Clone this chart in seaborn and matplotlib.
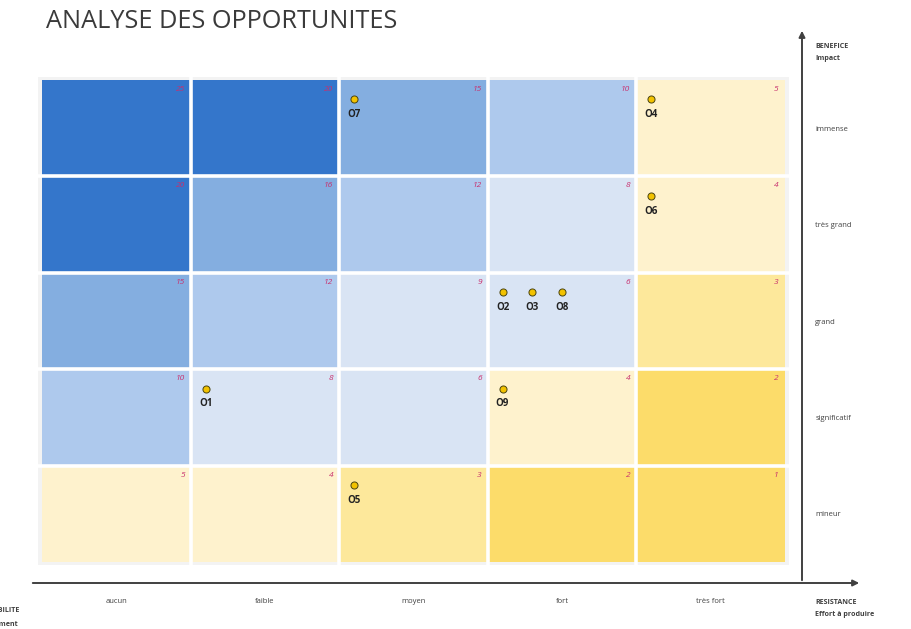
import numpy as np
import pandas as pd
import matplotlib
matplotlib.use("Agg")
import matplotlib.pyplot as plt
from matplotlib.colors import ListedColormap, BoundaryNorm
import seaborn as sns

# axes categories
resistance = ['aucun', 'faible', 'moyen', 'fort', 'très fort']
impact = ['immense', 'très grand', 'grand', 'significatif', 'mineur']

# score per cell (rows = impact, columns = resistance)
scores = [[25, 20, 15, 10, 5],
          [20, 16, 12, 8, 4],
          [15, 12, 9, 6, 3],
          [10, 8, 6, 4, 2],
          [5, 4, 3, 2, 1]]

# opportunities: column index, row index, slot inside the cell
opp_names = ['O1', 'O2', 'O3', 'O4', 'O5', 'O6', 'O7', 'O8', 'O9']
opp_col = [1, 3, 3, 4, 2, 4, 2, 3, 3]
opp_row = [3, 2, 2, 0, 4, 1, 0, 2, 3]
opp_slot = [0, 0, 1, 0, 0, 0, 0, 2, 0]

level_bounds = [0, 2.5, 3.5, 5.5, 9.5, 12.5, 17.5, 26]
level_colors = ['#fcdc6a', '#fde89b', '#fef2cd', '#d9e4f4', '#aec9ed', '#84aee0', '#3476cb']

sns.set_theme(style='white')
plt.rcParams['font.family'] = ['Open Sans', 'DejaVu Sans']

fig = plt.figure(figsize=(9.12, 6.29), dpi=100)
ax = fig.add_axes([38 / 912, 1 - 565 / 629, 751 / 912, 488 / 629])

df = pd.DataFrame(scores, index=impact, columns=resistance)
cmap = ListedColormap(level_colors)
norm = BoundaryNorm(level_bounds, cmap.N)
sns.heatmap(df, cmap=cmap, norm=norm, cbar=False, linewidths=0, ax=ax)

ax.set_facecolor('#f3f3f3')
ax.set_xlim(-0.03, 5.03)
ax.set_ylim(5.03, -0.03)
for k in range(1, 5):
    ax.axvline(k, color='white', lw=2.6)
    ax.axhline(k, color='white', lw=2.6)
for s in ax.spines.values():
    s.set_visible(False)

# score numbers, top right of each cell
for i, row in enumerate(scores):
    for j, v in enumerate(row):
        ax.text(j + 0.96, i + 0.1, str(v), ha='right', va='center', fontsize=6,
                style='italic', color='#c8306e')

# opportunity markers
px = [c + 0.1 + 0.2 * s for c, s in zip(opp_col, opp_slot)]
py = [r + 0.2 for r in opp_row]
sns.scatterplot(x=px, y=py, ax=ax, color='#f2c200', s=26, edgecolor='#4a4410',
                linewidth=0.7, zorder=5, legend=False)
for name, x, y in zip(opp_names, px, py):
    ax.text(x, y + 0.16, name, ha='center', va='center', fontsize=7,
            fontweight='bold', color='#222222', zorder=6)

# tick labels
ax.set_xticks(np.arange(5) + 0.5)
ax.set_xticklabels(resistance, fontsize=5.5, color='#404040')
ax.set_yticks(np.arange(5) + 0.5)
ax.set_yticklabels(impact, fontsize=5.5, color='#404040', rotation=0, ha='left')
ax.yaxis.tick_right()
ax.tick_params(axis='x', length=0, pad=24)
ax.tick_params(axis='y', length=0, pad=19)
ax.set_xlabel('')
ax.set_ylabel('')

# arrows for the two axes
fw, fh = 912, 629
arrow = dict(arrowstyle='-|>', color='#404040', lw=1.4, mutation_scale=9)
fig.add_artist(matplotlib.patches.FancyArrowPatch(
    (30 / fw, 1 - 583 / fh), (862 / fw, 1 - 583 / fh), transform=fig.transFigure, **arrow))
fig.add_artist(matplotlib.patches.FancyArrowPatch(
    (802 / fw, 1 - 583 / fh), (802 / fw, 1 - 28 / fh), transform=fig.transFigure, **arrow))

fig.text(46 / fw, 1 - 21 / fh, 'ANALYSE DES OPPORTUNITES', fontsize=18.2, color='#3a3a3a',
         va='center', ha='left')
lab = dict(fontsize=5.1, fontweight='bold', color='#404040', va='center')
fig.text(815 / fw, 1 - 46 / fh, 'BENEFICE', **lab)
fig.text(815 / fw, 1 - 59 / fh, 'Impact', **lab)
fig.text(815 / fw, 1 - 602 / fh, 'RESISTANCE', **lab)
fig.text(815 / fw, 1 - 614 / fh, 'Effort à produire', **lab)
# left axis label, cut by the figure edge as in the original
fig.text(20 / fw, 1 - 610 / fh, 'FAISABILITE', ha='right', **lab)
fig.text(18 / fw, 1 - 624 / fh, 'Investissement', ha='right', **lab)

fig.savefig('out.png', dpi=100, facecolor='white')
